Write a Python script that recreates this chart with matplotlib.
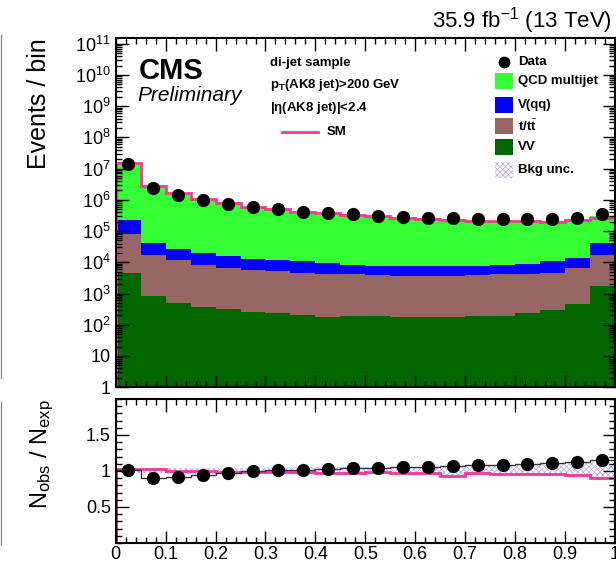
import numpy as np
import matplotlib
matplotlib.use("Agg")
import matplotlib.pyplot as plt
from matplotlib.ticker import FixedLocator, MultipleLocator, NullFormatter, FuncFormatter, LogLocator
from matplotlib.lines import Line2D
from matplotlib.patches import Rectangle

plt.rcParams['font.family'] = ['Liberation Sans', 'DejaVu Sans']
plt.rcParams['mathtext.fontset'] = 'custom'
plt.rcParams['mathtext.rm'] = 'Liberation Sans'
plt.rcParams['mathtext.it'] = 'Liberation Sans:italic'
plt.rcParams['mathtext.bf'] = 'Liberation Sans:bold'
plt.rcParams['hatch.linewidth'] = 0.5

# 20 bins between 0 and 1
edges = np.linspace(0, 1, 21)
centers = 0.5 * (edges[1:] + edges[:-1])

data = [1.45e7, 2.45e6, 1.48e6, 1.0e6, 7.6e5, 6.0e5, 5.25e5, 4.2e5, 3.9e5, 3.4e5,
        3.15e5, 2.9e5, 2.7e5, 2.7e5, 2.35e5, 2.35e5, 2.35e5, 2.35e5, 2.7e5, 3.4e5]
qcd = [1.41e7, 2.68e6, 1.58e6, 1.04e6, 7.7e5, 5.9e5, 5.1e5, 4.05e5, 3.7e5, 3.2e5,
       2.95e5, 2.67e5, 2.48e5, 2.45e5, 2.1e5, 2.09e5, 2.05e5, 2.0e5, 2.25e5, 2.53e5]
vqq = [1.51e5, 2.6e4, 1.6e4, 1.19e4, 8.7e3, 7.3e3, 6.4e3, 6.3e3, 5.1e3, 4.4e3,
       4.1e3, 3.6e3, 3.9e3, 3.9e3, 4.1e3, 4.4e3, 4.8e3, 6.0e3, 7.3e3, 2.6e4]
ttbar = [7.8e4, 1.58e4, 1.1e4, 8.1e3, 6.5e3, 5.6e3, 4.9e3, 4.2e3, 3.9e3, 3.9e3,
         3.6e3, 3.6e3, 3.4e3, 3.4e3, 3.6e3, 3.9e3, 4.1e3, 4.4e3, 6.3e3, 1.48e4]
vv = [4700, 810, 480, 360, 310, 250, 230, 200, 175, 185,
      185, 175, 175, 175, 185, 185, 230, 290, 450, 1800]

# SM prediction relative to the background sum
sm_ratio = [1.03, 1.03, 1.00, 1.00, 0.99, 0.99, 0.99, 0.98, 0.97, 0.97,
            0.98, 0.97, 0.97, 0.93, 0.97, 0.96, 0.96, 0.96, 0.95, 0.90]
# background uncertainty band in the ratio
unc_lo = [0.97, 0.97, 0.96, 0.96, 0.96, 0.96, 0.96, 0.96, 0.96, 0.96,
          0.96, 0.96, 0.95, 0.94, 0.94, 0.94, 0.93, 0.93, 0.93, 0.89]
unc_hi = [1.04, 1.04, 1.04, 1.04, 1.04, 1.04, 1.05, 1.05, 1.05, 1.05,
          1.06, 1.06, 1.06, 1.07, 1.08, 1.08, 1.09, 1.10, 1.11, 1.13]

c_qcd = '#33ff33'
c_vqq = '#0000ff'
c_tt = '#996666'
c_vv = '#006600'
c_sm = '#ff3399'
c_unc = '#a8a8ff'

c1 = np.array(vv)
c2 = c1 + np.array(ttbar)
c3 = c2 + np.array(vqq)
total = c3 + np.array(qcd)
sm = total * np.array(sm_ratio)
ratio = np.array(data) / total

fig = plt.figure(figsize=(6.16, 5.62), dpi=100)
ax = fig.add_axes([0.188, 0.311, 0.810, 0.621])
rx = fig.add_axes([0.188, 0.034, 0.810, 0.256])

# stacked backgrounds
ax.stairs(c1, edges, baseline=1e-2, fill=True, color=c_vv)
ax.stairs(c2, edges, baseline=c1, fill=True, color=c_tt)
ax.stairs(c3, edges, baseline=c2, fill=True, color=c_vqq)
ax.stairs(total, edges, baseline=c3, fill=True, color=c_qcd)
ax.stairs(sm, edges, color=c_sm, lw=2)
ax.plot(centers, data, 'o', color='black', ms=8.5, zorder=5)

ax.set_yscale('log')
ax.set_ylim(1, 1.5e11)
ax.set_xlim(0, 1)

def log_label(v, pos):
    n = int(round(np.log10(v)))
    if n == 0:
        return '1'
    if n == 1:
        return '10'
    return r'$10^{%d}$' % n

ax.yaxis.set_major_locator(LogLocator(base=10, numticks=20))
ax.yaxis.set_minor_locator(LogLocator(base=10, subs=np.arange(2, 10), numticks=20))
ax.yaxis.set_major_formatter(FuncFormatter(log_label))
ax.yaxis.set_minor_formatter(NullFormatter())
ax.xaxis.set_major_locator(MultipleLocator(0.1))
ax.xaxis.set_minor_locator(MultipleLocator(0.02))
ax.xaxis.set_major_formatter(NullFormatter())
ax.set_ylabel('Events / bin', fontsize=18, loc='top')
ax.yaxis.set_label_coords(-0.13, 1.0)

# ratio panel
rx.stairs(unc_hi, edges, baseline=unc_lo, fill=True, facecolor='none',
          edgecolor=c_unc, hatch='xxxxxx', lw=0)
rx.stairs(sm_ratio, edges, color=c_sm, lw=2)
rx.stairs(ratio, edges, color='#333333', lw=1)
rx.plot(centers, ratio, 'o', color='black', ms=8.5, zorder=5)
rx.set_xlim(0, 1)
rx.set_ylim(0, 2)
rx.yaxis.set_major_locator(FixedLocator([0.5, 1.0, 1.5]))
rx.yaxis.set_minor_locator(MultipleLocator(0.1))
rx.yaxis.set_major_formatter(FuncFormatter(lambda v, p: '%g' % v))
rx.xaxis.set_major_locator(MultipleLocator(0.1))
rx.xaxis.set_minor_locator(MultipleLocator(0.02))
rx.xaxis.set_major_formatter(FuncFormatter(lambda v, p: '%g' % v))
rx.set_ylabel(r'N$_{\mathrm{obs}}$ / N$_{\mathrm{exp}}$', fontsize=17, loc='top')
rx.yaxis.set_label_coords(-0.12, 1.0)

for a in (ax, rx):
    a.tick_params(which='both', direction='in', top=True, right=True, labelsize=13)
    a.tick_params(which='major', length=9, width=1)
    a.tick_params(which='minor', length=4.5, width=1)
    for s in a.spines.values():
        s.set_linewidth(1.5)
rx.tick_params(axis='x', pad=2)

# labels
fig.text(0.994, 0.951, r'35.9 fb$^{-1}$ (13 TeV)', fontsize=16, ha='right', va='baseline')
ax.text(0.046, 0.905, 'CMS', transform=ax.transAxes, fontsize=21, fontweight='bold', va='center')
ax.text(0.044, 0.835, 'Preliminary', transform=ax.transAxes, fontsize=15, style='italic', va='center')

ax.text(0.309, 0.929, 'di-jet sample', transform=ax.transAxes, fontsize=9.5, fontweight='bold', va='center')
ax.text(0.309, 0.867, r'p$_{\mathbf{T}}$(AK8 jet)>200 GeV', transform=ax.transAxes,
        fontsize=9.5, fontweight='bold', va='center')
ax.text(0.309, 0.800, r'|$\mathbf{\eta}$(AK8 jet)|<2.4', transform=ax.transAxes,
        fontsize=9.5, fontweight='bold', va='center')
ax.add_line(Line2D([0.333, 0.405], [0.73, 0.73], transform=ax.transAxes, color=c_sm, lw=2))
ax.text(0.423, 0.73, 'SM', transform=ax.transAxes, fontsize=9.5, fontweight='bold', va='center')

# legend entries
leg_y = [0.931, 0.877, 0.808, 0.748, 0.688, 0.622]
leg_x = 0.760
ax.plot([leg_x + 0.018], [leg_y[0]], 'o', color='black', ms=7.5, transform=ax.transAxes, clip_on=False)
boxes = [(c_qcd, 'QCD multijet'), (c_vqq, 'V(qq)'), (c_tt, r't/t$\bar{\mathbf{t}}$'), (c_vv, 'VV')]
ax.text(leg_x + 0.046, leg_y[0], 'Data', transform=ax.transAxes, fontsize=9.5, fontweight='bold', va='center')
for (col, lab), y in zip(boxes, leg_y[1:5]):
    ax.add_patch(Rectangle((leg_x, y - 0.023), 0.036, 0.046, transform=ax.transAxes,
                           facecolor=col, edgecolor='none'))
    ax.text(leg_x + 0.046, y, lab, transform=ax.transAxes, fontsize=9.5, fontweight='bold', va='center')
ax.add_patch(Rectangle((leg_x, leg_y[5] - 0.023), 0.036, 0.046, transform=ax.transAxes,
                       facecolor='none', edgecolor=c_unc, hatch='xxxxxx', lw=0))
ax.text(leg_x + 0.046, leg_y[5], 'Bkg unc.', transform=ax.transAxes, fontsize=9.5, fontweight='bold', va='center')

# thin frame edge on the far left
fig.add_artist(Line2D([0.002, 0.002], [1 - 35 / 562, 1 - 378 / 562], color='0.55', lw=1))
fig.add_artist(Line2D([0.002, 0.002], [1 - 402 / 562, 1 - 545 / 562], color='0.55', lw=1))

fig.savefig('out.png', dpi=100)
